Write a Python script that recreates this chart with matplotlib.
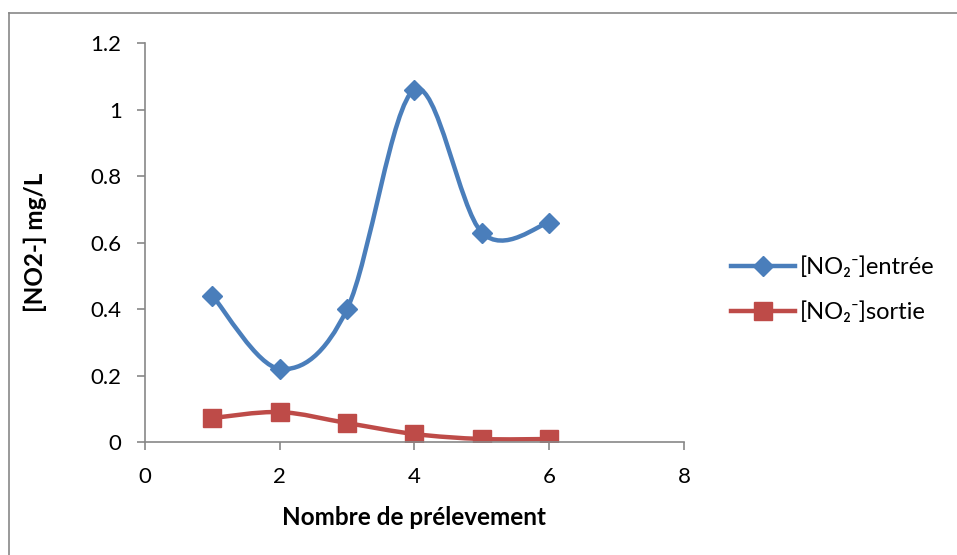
import matplotlib.pyplot as plt
from matplotlib.path import Path
from matplotlib.patches import PathPatch
from matplotlib.lines import Line2D

# Data
prelevements = [1, 2, 3, 4, 5, 6]
no2_entree = [0.44, 0.22, 0.40, 1.06, 0.63, 0.66]
no2_sortie = [0.072, 0.09, 0.057, 0.024, 0.009, 0.009]

labels = ['[NO\u2082\u207b]entrée', '[NO\u2082\u207b]sortie']
colors = ['#4A7EBB', '#BE4B48']
markers = ['D', 's']
marker_sizes = [10, 12.5]

plt.rcParams['font.family'] = ['Lato', 'DejaVu Sans']


def smooth_path(x, y):
    # Excel-style smoothed line: cubic Bezier segments through the points
    verts = [(x[0], y[0])]
    codes = [Path.MOVETO]
    n = len(x)
    for i in range(n - 1):
        x0, y0 = (x[i - 1], y[i - 1]) if i > 0 else (x[i], y[i])
        x3, y3 = (x[i + 2], y[i + 2]) if i + 2 < n else (x[i + 1], y[i + 1])
        c1 = (x[i] + (x[i + 1] - x0) / 6, y[i] + (y[i + 1] - y0) / 6)
        c2 = (x[i + 1] - (x3 - x[i]) / 6, y[i + 1] - (y3 - y[i]) / 6)
        verts += [c1, c2, (x[i + 1], y[i + 1])]
        codes += [Path.CURVE4] * 3
    return Path(verts, codes)


fig = plt.figure(figsize=(9.57, 5.55), dpi=100)
ax = fig.add_axes([0.1515, 0.2036, 0.5632, 0.7189])

for yv, c, m, ms, lab in zip([no2_entree, no2_sortie], colors, markers, marker_sizes, labels):
    patch = PathPatch(smooth_path(prelevements, yv), facecolor='none', edgecolor=c,
                      lw=3.2, capstyle='round', joinstyle='round')
    ax.add_patch(patch)
    ax.plot(prelevements, yv, ls='none', marker=m, ms=ms, color=c)

ax.set_xlim(0, 8)
ax.set_ylim(0, 1.2)
ax.set_xticks([0, 2, 4, 6, 8])
ax.set_yticks([0, 0.2, 0.4, 0.6, 0.8, 1.0, 1.2])
ax.set_yticklabels(['0', '0.2', '0.4', '0.6', '0.8', '1', '1.2'])

for s in ['top', 'right']:
    ax.spines[s].set_visible(False)
for s in ['left', 'bottom']:
    ax.spines[s].set_color('#878787')
    ax.spines[s].set_linewidth(1.2)
ax.tick_params(direction='out', length=5.8, width=1.2, color='#878787',
               labelsize=16)
ax.tick_params(axis='x', pad=12)
ax.tick_params(axis='y', pad=11)

ax.set_xlabel('Nombre de prélevement', fontsize=17.5, fontweight='bold', labelpad=14)
ax.set_ylabel('[NO2-] mg/L', fontsize=17.5, fontweight='bold', labelpad=31)

handles = [Line2D([], [], color=c, lw=3.2, marker=m, ms=ms)
           for c, m, ms in zip(colors, markers, marker_sizes)]
fig.legend(handles, labels, loc='center left', bbox_to_anchor=(0.742, 0.478),
           frameon=False, fontsize=17, handlelength=2.7, handletextpad=0.2,
           labelspacing=1.0)

# chart area border (left and top edges visible)
fig.add_artist(Line2D([9 / 957, 9 / 957], [0, 1 - 13 / 555], transform=fig.transFigure,
                      color='#878787', lw=1.2))
fig.add_artist(Line2D([9 / 957, 1], [1 - 13 / 555, 1 - 13 / 555], transform=fig.transFigure,
                      color='#878787', lw=1.2))

plt.savefig('out.png')
